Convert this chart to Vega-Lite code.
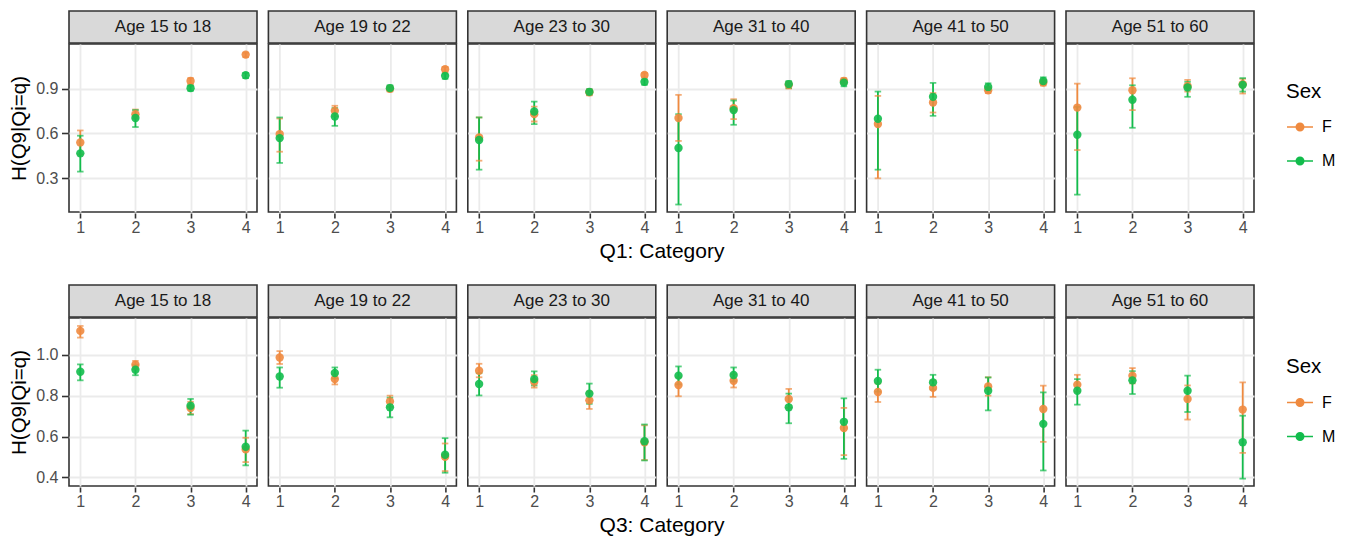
{
  "$schema": "https://vega.github.io/schema/vega-lite/v6.json",
  "padding": {"left": 9, "top": 10, "right": 5, "bottom": 5},
  "background": "white",
  "config": {
    "font": "Liberation Sans",
    "view": {"stroke": null},
    "axis": {"domain": false, "tickColor": "#333333", "tickSize": 5, "tickWidth": 1.6, "labelColor": "#4D4D4D", "labelFontSize": 16, "labelFont": "Liberation Sans", "labelPadding": 1.5, "gridColor": "#EBEBEB", "gridWidth": 1.8, "titleFont": "Liberation Sans", "titleFontSize": 20.5, "titleFontWeight": "normal", "titleColor": "#000000"},
    "legend": {"titleFontSize": 20.5, "titleFontWeight": "normal", "titleColor": "#000000", "titleFont": "Liberation Sans", "labelFont": "Liberation Sans", "labelFontSize": 16, "labelColor": "#000000", "labelOffset": 8, "rowPadding": 12, "titlePadding": 11, "symbolSize": 676, "symbolStrokeWidth": 1.7, "symbolType": "M-1,0L1,0M0.28,0A0.28,0.28,0,1,1,-0.28,0A0.28,0.28,0,1,1,0.28,0Z"}
  },
  "datasets": {
    "ages": [
      {"age": "Age 15 to 18"}, {"age": "Age 19 to 22"}, {"age": "Age 23 to 30"},
      {"age": "Age 31 to 40"}, {"age": "Age 41 to 50"}, {"age": "Age 51 to 60"}
    ],
    "q1": [
      {"age": "Age 15 to 18", "sex": "F", "cat": 1, "h": 0.54, "lo": 0.46, "hi": 0.62},
      {"age": "Age 15 to 18", "sex": "M", "cat": 1, "h": 0.467, "lo": 0.345, "hi": 0.585},
      {"age": "Age 15 to 18", "sex": "F", "cat": 2, "h": 0.729, "lo": 0.70, "hi": 0.76},
      {"age": "Age 15 to 18", "sex": "M", "cat": 2, "h": 0.703, "lo": 0.643, "hi": 0.756},
      {"age": "Age 15 to 18", "sex": "F", "cat": 3, "h": 0.951, "lo": 0.93, "hi": 0.97},
      {"age": "Age 15 to 18", "sex": "M", "cat": 3, "h": 0.903, "lo": 0.885, "hi": 0.92},
      {"age": "Age 15 to 18", "sex": "F", "cat": 4, "h": 1.127, "lo": 1.11, "hi": 1.14},
      {"age": "Age 15 to 18", "sex": "M", "cat": 4, "h": 0.989, "lo": 0.97, "hi": 1.005},
      {"age": "Age 19 to 22", "sex": "F", "cat": 1, "h": 0.596, "lo": 0.478, "hi": 0.70},
      {"age": "Age 19 to 22", "sex": "M", "cat": 1, "h": 0.569, "lo": 0.403, "hi": 0.707},
      {"age": "Age 19 to 22", "sex": "F", "cat": 2, "h": 0.751, "lo": 0.715, "hi": 0.785},
      {"age": "Age 19 to 22", "sex": "M", "cat": 2, "h": 0.713, "lo": 0.651, "hi": 0.77},
      {"age": "Age 19 to 22", "sex": "F", "cat": 3, "h": 0.898, "lo": 0.88, "hi": 0.915},
      {"age": "Age 19 to 22", "sex": "M", "cat": 3, "h": 0.903, "lo": 0.885, "hi": 0.922},
      {"age": "Age 19 to 22", "sex": "F", "cat": 4, "h": 1.029, "lo": 1.01, "hi": 1.045},
      {"age": "Age 19 to 22", "sex": "M", "cat": 4, "h": 0.985, "lo": 0.965, "hi": 1.0},
      {"age": "Age 23 to 30", "sex": "F", "cat": 1, "h": 0.573, "lo": 0.418, "hi": 0.707},
      {"age": "Age 23 to 30", "sex": "M", "cat": 1, "h": 0.556, "lo": 0.358, "hi": 0.707},
      {"age": "Age 23 to 30", "sex": "F", "cat": 2, "h": 0.729, "lo": 0.68, "hi": 0.78},
      {"age": "Age 23 to 30", "sex": "M", "cat": 2, "h": 0.747, "lo": 0.663, "hi": 0.813},
      {"age": "Age 23 to 30", "sex": "F", "cat": 3, "h": 0.875, "lo": 0.855, "hi": 0.895},
      {"age": "Age 23 to 30", "sex": "M", "cat": 3, "h": 0.878, "lo": 0.86, "hi": 0.895},
      {"age": "Age 23 to 30", "sex": "F", "cat": 4, "h": 0.991, "lo": 0.975, "hi": 1.005},
      {"age": "Age 23 to 30", "sex": "M", "cat": 4, "h": 0.945, "lo": 0.925, "hi": 0.962},
      {"age": "Age 31 to 40", "sex": "F", "cat": 1, "h": 0.703, "lo": 0.55, "hi": 0.858},
      {"age": "Age 31 to 40", "sex": "M", "cat": 1, "h": 0.503, "lo": 0.125, "hi": 0.729},
      {"age": "Age 31 to 40", "sex": "F", "cat": 2, "h": 0.769, "lo": 0.696, "hi": 0.829},
      {"age": "Age 31 to 40", "sex": "M", "cat": 2, "h": 0.756, "lo": 0.658, "hi": 0.82},
      {"age": "Age 31 to 40", "sex": "F", "cat": 3, "h": 0.925, "lo": 0.9, "hi": 0.945},
      {"age": "Age 31 to 40", "sex": "M", "cat": 3, "h": 0.93, "lo": 0.905, "hi": 0.95},
      {"age": "Age 31 to 40", "sex": "F", "cat": 4, "h": 0.951, "lo": 0.93, "hi": 0.97},
      {"age": "Age 31 to 40", "sex": "M", "cat": 4, "h": 0.94, "lo": 0.915, "hi": 0.96},
      {"age": "Age 41 to 50", "sex": "F", "cat": 1, "h": 0.663, "lo": 0.30, "hi": 0.851},
      {"age": "Age 41 to 50", "sex": "M", "cat": 1, "h": 0.698, "lo": 0.358, "hi": 0.88},
      {"age": "Age 41 to 50", "sex": "F", "cat": 2, "h": 0.807, "lo": 0.74, "hi": 0.87},
      {"age": "Age 41 to 50", "sex": "M", "cat": 2, "h": 0.845, "lo": 0.718, "hi": 0.938},
      {"age": "Age 41 to 50", "sex": "F", "cat": 3, "h": 0.889, "lo": 0.87, "hi": 0.91},
      {"age": "Age 41 to 50", "sex": "M", "cat": 3, "h": 0.911, "lo": 0.885, "hi": 0.935},
      {"age": "Age 41 to 50", "sex": "F", "cat": 4, "h": 0.94, "lo": 0.92, "hi": 0.96},
      {"age": "Age 41 to 50", "sex": "M", "cat": 4, "h": 0.951, "lo": 0.93, "hi": 0.975},
      {"age": "Age 51 to 60", "sex": "F", "cat": 1, "h": 0.773, "lo": 0.489, "hi": 0.933},
      {"age": "Age 51 to 60", "sex": "M", "cat": 1, "h": 0.591, "lo": 0.191, "hi": 0.778},
      {"age": "Age 51 to 60", "sex": "F", "cat": 2, "h": 0.889, "lo": 0.756, "hi": 0.969},
      {"age": "Age 51 to 60", "sex": "M", "cat": 2, "h": 0.825, "lo": 0.638, "hi": 0.922},
      {"age": "Age 51 to 60", "sex": "F", "cat": 3, "h": 0.918, "lo": 0.88, "hi": 0.958},
      {"age": "Age 51 to 60", "sex": "M", "cat": 3, "h": 0.907, "lo": 0.845, "hi": 0.945},
      {"age": "Age 51 to 60", "sex": "F", "cat": 4, "h": 0.929, "lo": 0.867, "hi": 0.965},
      {"age": "Age 51 to 60", "sex": "M", "cat": 4, "h": 0.925, "lo": 0.88, "hi": 0.97}
    ],
    "q3": [
      {"age": "Age 15 to 18", "sex": "F", "cat": 1, "h": 1.117, "lo": 1.084, "hi": 1.141},
      {"age": "Age 15 to 18", "sex": "M", "cat": 1, "h": 0.917, "lo": 0.875, "hi": 0.953},
      {"age": "Age 15 to 18", "sex": "F", "cat": 2, "h": 0.951, "lo": 0.93, "hi": 0.97},
      {"age": "Age 15 to 18", "sex": "M", "cat": 2, "h": 0.927, "lo": 0.90, "hi": 0.95},
      {"age": "Age 15 to 18", "sex": "F", "cat": 3, "h": 0.74, "lo": 0.71, "hi": 0.77},
      {"age": "Age 15 to 18", "sex": "M", "cat": 3, "h": 0.751, "lo": 0.707, "hi": 0.784},
      {"age": "Age 15 to 18", "sex": "F", "cat": 4, "h": 0.537, "lo": 0.475, "hi": 0.594},
      {"age": "Age 15 to 18", "sex": "M", "cat": 4, "h": 0.55, "lo": 0.459, "hi": 0.629},
      {"age": "Age 19 to 22", "sex": "F", "cat": 1, "h": 0.987, "lo": 0.955, "hi": 1.018},
      {"age": "Age 19 to 22", "sex": "M", "cat": 1, "h": 0.894, "lo": 0.839, "hi": 0.938},
      {"age": "Age 19 to 22", "sex": "F", "cat": 2, "h": 0.881, "lo": 0.855, "hi": 0.905},
      {"age": "Age 19 to 22", "sex": "M", "cat": 2, "h": 0.911, "lo": 0.885, "hi": 0.938},
      {"age": "Age 19 to 22", "sex": "F", "cat": 3, "h": 0.772, "lo": 0.745, "hi": 0.80},
      {"age": "Age 19 to 22", "sex": "M", "cat": 3, "h": 0.743, "lo": 0.694, "hi": 0.79},
      {"age": "Age 19 to 22", "sex": "F", "cat": 4, "h": 0.501, "lo": 0.431, "hi": 0.566},
      {"age": "Age 19 to 22", "sex": "M", "cat": 4, "h": 0.511, "lo": 0.423, "hi": 0.592},
      {"age": "Age 23 to 30", "sex": "F", "cat": 1, "h": 0.922, "lo": 0.89, "hi": 0.956},
      {"age": "Age 23 to 30", "sex": "M", "cat": 1, "h": 0.857, "lo": 0.801, "hi": 0.91},
      {"age": "Age 23 to 30", "sex": "F", "cat": 2, "h": 0.868, "lo": 0.84, "hi": 0.90},
      {"age": "Age 23 to 30", "sex": "M", "cat": 2, "h": 0.881, "lo": 0.85, "hi": 0.919},
      {"age": "Age 23 to 30", "sex": "F", "cat": 3, "h": 0.777, "lo": 0.735, "hi": 0.82},
      {"age": "Age 23 to 30", "sex": "M", "cat": 3, "h": 0.81, "lo": 0.76, "hi": 0.859},
      {"age": "Age 23 to 30", "sex": "F", "cat": 4, "h": 0.572, "lo": 0.485, "hi": 0.655},
      {"age": "Age 23 to 30", "sex": "M", "cat": 4, "h": 0.577, "lo": 0.483, "hi": 0.659},
      {"age": "Age 31 to 40", "sex": "F", "cat": 1, "h": 0.852, "lo": 0.797, "hi": 0.89},
      {"age": "Age 31 to 40", "sex": "M", "cat": 1, "h": 0.898, "lo": 0.855, "hi": 0.943},
      {"age": "Age 31 to 40", "sex": "F", "cat": 2, "h": 0.873, "lo": 0.84, "hi": 0.905},
      {"age": "Age 31 to 40", "sex": "M", "cat": 2, "h": 0.901, "lo": 0.87, "hi": 0.938},
      {"age": "Age 31 to 40", "sex": "F", "cat": 3, "h": 0.784, "lo": 0.74, "hi": 0.833},
      {"age": "Age 31 to 40", "sex": "M", "cat": 3, "h": 0.743, "lo": 0.665, "hi": 0.81},
      {"age": "Age 31 to 40", "sex": "F", "cat": 4, "h": 0.642, "lo": 0.509, "hi": 0.74},
      {"age": "Age 31 to 40", "sex": "M", "cat": 4, "h": 0.672, "lo": 0.491, "hi": 0.787},
      {"age": "Age 41 to 50", "sex": "F", "cat": 1, "h": 0.818, "lo": 0.769, "hi": 0.86},
      {"age": "Age 41 to 50", "sex": "M", "cat": 1, "h": 0.872, "lo": 0.82, "hi": 0.927},
      {"age": "Age 41 to 50", "sex": "F", "cat": 2, "h": 0.838, "lo": 0.794, "hi": 0.875},
      {"age": "Age 41 to 50", "sex": "M", "cat": 2, "h": 0.865, "lo": 0.83, "hi": 0.902},
      {"age": "Age 41 to 50", "sex": "F", "cat": 3, "h": 0.845, "lo": 0.80, "hi": 0.89},
      {"age": "Age 41 to 50", "sex": "M", "cat": 3, "h": 0.824, "lo": 0.728, "hi": 0.889},
      {"age": "Age 41 to 50", "sex": "F", "cat": 4, "h": 0.735, "lo": 0.574, "hi": 0.849},
      {"age": "Age 41 to 50", "sex": "M", "cat": 4, "h": 0.662, "lo": 0.434, "hi": 0.816},
      {"age": "Age 51 to 60", "sex": "F", "cat": 1, "h": 0.854, "lo": 0.82, "hi": 0.902},
      {"age": "Age 51 to 60", "sex": "M", "cat": 1, "h": 0.824, "lo": 0.756, "hi": 0.881},
      {"age": "Age 51 to 60", "sex": "F", "cat": 2, "h": 0.898, "lo": 0.86, "hi": 0.935},
      {"age": "Age 51 to 60", "sex": "M", "cat": 2, "h": 0.875, "lo": 0.808, "hi": 0.92},
      {"age": "Age 51 to 60", "sex": "F", "cat": 3, "h": 0.784, "lo": 0.683, "hi": 0.85},
      {"age": "Age 51 to 60", "sex": "M", "cat": 3, "h": 0.824, "lo": 0.72, "hi": 0.898},
      {"age": "Age 51 to 60", "sex": "F", "cat": 4, "h": 0.732, "lo": 0.52, "hi": 0.865},
      {"age": "Age 51 to 60", "sex": "M", "cat": 4, "h": 0.572, "lo": 0.394, "hi": 0.702}
    ]
  },
  "spacing": 22,
  "resolve": {"scale": {"color": "independent"}, "legend": {"color": "independent"}},
  "vconcat": [
    {
      "name": "r1",
      "spacing": -1.6,
      "vconcat": [
        {
          "data": {"name": "ages"},
          "facet": {"column": {"field": "age", "type": "nominal", "title": null, "sort": ["Age 15 to 18", "Age 19 to 22", "Age 23 to 30", "Age 31 to 40", "Age 41 to 50", "Age 51 to 60"], "header": {"labels": false}}},
          "spacing": 9.4,
          "spec": {
            "width": 188, "height": 32,
            "view": {"fill": "#D9D9D9", "stroke": "#333333", "strokeWidth": 1.6},
            "mark": {"type": "text", "fontSize": 17, "color": "#1A1A1A", "font": "Liberation Sans"},
            "encoding": {
              "text": {"field": "age"},
              "y": {"datum": 0.5, "type": "quantitative", "scale": {"domain": [0, 1]}, "axis": {"title": "H", "titleOpacity": 0, "labels": false, "ticks": false, "grid": false, "titlePadding": 8.7, "minExtent": 30, "maxExtent": 30}}
            }
          }
        },
        {
          "data": {"name": "q1"},
          "facet": {"column": {"field": "age", "type": "nominal", "title": "Q1: Category", "sort": ["Age 15 to 18", "Age 19 to 22", "Age 23 to 30", "Age 31 to 40", "Age 41 to 50", "Age 51 to 60"], "header": {"labels": false, "titleOrient": "bottom", "titleFontSize": 21, "titleFontWeight": "normal", "titleColor": "#000000", "titleFont": "Liberation Sans", "titlePadding": -5}}},
          "spacing": 9.4,
          "spec": {
            "width": 188, "height": 168,
            "view": {"stroke": "#333333", "strokeWidth": 1.6},
            "encoding": {
              "color": {"field": "sex", "type": "nominal", "scale": {"domain": ["F", "M"], "range": ["#EF8A3F", "#12BC4C"]},
                "legend": {"title": "Sex", "orient": "none", "legendX": 1217, "legendY": 70.5,
                  "encode": {"symbols": {"update": {"fill": {"scale": "r1_color", "field": "value"}, "stroke": {"scale": "r1_color", "field": "value"}, "opacity": {"value": 1}}}}}}
            },
            "layer": [
              {
                "mark": {"type": "rule", "strokeWidth": 1.8},
                "encoding": {
                  "x": {"field": "cat", "type": "quantitative", "scale": {"domain": [0.795, 4.205], "nice": false, "zero": false}, "axis": {"orient": "bottom", "values": [1, 2, 3, 4], "format": "d", "title": null}},
                  "y": {"field": "lo", "type": "quantitative", "scale": {"domain": [0.075, 1.198], "nice": false, "zero": false}, "axis": {"orient": "left", "title": "H(Q9|Qi=q)", "values": [0.3, 0.6, 0.9], "format": ".1f", "tickSize": 6.5, "labelPadding": 3.5, "titlePadding": 8.7, "minExtent": 30, "maxExtent": 30}},
                  "y2": {"field": "hi"}
                }
              },
              {
                "mark": {"type": "tick", "orient": "horizontal", "size": 6.5, "thickness": 1.8},
                "encoding": {
                  "x": {"field": "cat", "type": "quantitative", "axis": {"orient": "bottom", "values": [1.5, 2.5, 3.5], "labels": false, "ticks": false, "title": null, "gridWidth": 0.9}},
                  "y": {"field": "lo", "type": "quantitative", "axis": {"orient": "left", "values": [0.15, 0.45, 0.75, 1.05], "labels": false, "ticks": false, "title": null, "gridWidth": 0.9}}
                }
              },
              {
                "mark": {"type": "tick", "orient": "horizontal", "size": 6.5, "thickness": 1.8},
                "encoding": {
                  "x": {"field": "cat", "type": "quantitative", "axis": null},
                  "y": {"field": "hi", "type": "quantitative", "axis": null}
                }
              },
              {
                "mark": {"type": "circle", "size": 70, "opacity": 0.9},
                "encoding": {
                  "x": {"field": "cat", "type": "quantitative", "axis": null},
                  "y": {"field": "h", "type": "quantitative", "axis": null}
                }
              }
            ],
            "resolve": {"axis": {"x": "independent", "y": "independent"}}
          }
        }
      ]
    },
    {
      "name": "r2",
      "spacing": -1.6,
      "vconcat": [
        {
          "data": {"name": "ages"},
          "facet": {"column": {"field": "age", "type": "nominal", "title": null, "sort": ["Age 15 to 18", "Age 19 to 22", "Age 23 to 30", "Age 31 to 40", "Age 41 to 50", "Age 51 to 60"], "header": {"labels": false}}},
          "spacing": 9.4,
          "spec": {
            "width": 188, "height": 32,
            "view": {"fill": "#D9D9D9", "stroke": "#333333", "strokeWidth": 1.6},
            "mark": {"type": "text", "fontSize": 17, "color": "#1A1A1A", "font": "Liberation Sans"},
            "encoding": {
              "text": {"field": "age"},
              "y": {"datum": 0.5, "type": "quantitative", "scale": {"domain": [0, 1]}, "axis": {"title": "H", "titleOpacity": 0, "labels": false, "ticks": false, "grid": false, "titlePadding": 8.7, "minExtent": 30, "maxExtent": 30}}
            }
          }
        },
        {
          "data": {"name": "q3"},
          "facet": {"column": {"field": "age", "type": "nominal", "title": "Q3: Category", "sort": ["Age 15 to 18", "Age 19 to 22", "Age 23 to 30", "Age 31 to 40", "Age 41 to 50", "Age 51 to 60"], "header": {"labels": false, "titleOrient": "bottom", "titleFontSize": 21, "titleFontWeight": "normal", "titleColor": "#000000", "titleFont": "Liberation Sans", "titlePadding": -5}}},
          "spacing": 9.4,
          "spec": {
            "width": 188, "height": 168,
            "view": {"stroke": "#333333", "strokeWidth": 1.6},
            "encoding": {
              "color": {"field": "sex", "type": "nominal", "scale": {"domain": ["F", "M"], "range": ["#EF8A3F", "#12BC4C"]},
                "legend": {"title": "Sex", "orient": "none", "legendX": 1217, "legendY": 72,
                  "encode": {"symbols": {"update": {"fill": {"scale": "r2_color", "field": "value"}, "stroke": {"scale": "r2_color", "field": "value"}, "opacity": {"value": 1}}}}}}
            },
            "layer": [
              {
                "mark": {"type": "rule", "strokeWidth": 1.8},
                "encoding": {
                  "x": {"field": "cat", "type": "quantitative", "scale": {"domain": [0.795, 4.205], "nice": false, "zero": false}, "axis": {"orient": "bottom", "values": [1, 2, 3, 4], "format": "d", "title": null}},
                  "y": {"field": "lo", "type": "quantitative", "scale": {"domain": [0.358, 1.18], "nice": false, "zero": false}, "axis": {"orient": "left", "title": "H(Q9|Qi=q)", "values": [0.4, 0.6, 0.8, 1.0], "format": ".1f", "tickSize": 6.5, "labelPadding": 3.5, "titlePadding": 8.7, "minExtent": 30, "maxExtent": 30}},
                  "y2": {"field": "hi"}
                }
              },
              {
                "mark": {"type": "tick", "orient": "horizontal", "size": 6.5, "thickness": 1.8},
                "encoding": {
                  "x": {"field": "cat", "type": "quantitative", "axis": {"orient": "bottom", "values": [1.5, 2.5, 3.5], "labels": false, "ticks": false, "title": null, "gridWidth": 0.9}},
                  "y": {"field": "lo", "type": "quantitative", "axis": {"orient": "left", "values": [0.5, 0.7, 0.9, 1.1], "labels": false, "ticks": false, "title": null, "gridWidth": 0.9}}
                }
              },
              {
                "mark": {"type": "tick", "orient": "horizontal", "size": 6.5, "thickness": 1.8},
                "encoding": {
                  "x": {"field": "cat", "type": "quantitative", "axis": null},
                  "y": {"field": "hi", "type": "quantitative", "axis": null}
                }
              },
              {
                "mark": {"type": "circle", "size": 70, "opacity": 0.9},
                "encoding": {
                  "x": {"field": "cat", "type": "quantitative", "axis": null},
                  "y": {"field": "h", "type": "quantitative", "axis": null}
                }
              }
            ],
            "resolve": {"axis": {"x": "independent", "y": "independent"}}
          }
        }
      ]
    }
  ]
}
